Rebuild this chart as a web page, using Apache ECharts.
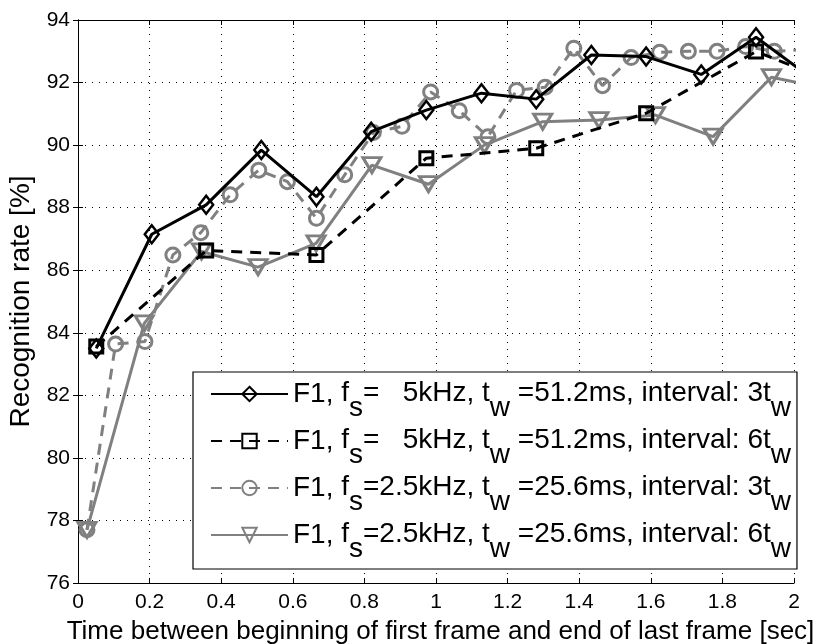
<!DOCTYPE html>
<html>
<head>
<meta charset="utf-8">
<script src="https://cdn.jsdelivr.net/npm/echarts@6/dist/echarts.min.js"></script>
<style>
  html, body { margin: 0; padding: 0; background: #fff; }
  #chart { width: 817px; height: 644px; }
</style>
</head>
<body>
<div id="chart"></div>
<script>
// F1, fs = 5 kHz, tw = 51.2 ms, interval 3tw
const diamondX = [0.051, 0.206, 0.358, 0.512, 0.666, 0.819, 0.973, 1.127, 1.280, 1.434, 1.587, 1.741, 1.894, 2.048];
const diamondY = [83.5, 87.15, 88.09, 89.84, 88.35, 90.43, 91.12, 91.66, 91.47, 92.88, 92.83, 92.26, 93.45, 92.15];

// F1, fs = 5 kHz, tw = 51.2 ms, interval 6tw
const squareX = [0.051, 0.358, 0.666, 0.973, 1.280, 1.587, 1.894, 2.202];
const squareY = [83.56, 86.63, 86.49, 89.58, 89.90, 91.02, 92.99, 91.6];

// F1, fs = 2.5 kHz, tw = 25.6 ms, interval 3tw
const circleX = [0.025, 0.105, 0.187, 0.265, 0.343, 0.425, 0.505, 0.585, 0.666, 0.745, 0.825, 0.905, 0.985,
                 1.065, 1.145, 1.225, 1.305, 1.385, 1.465, 1.545, 1.625, 1.705, 1.785, 1.865, 1.945, 2.025];
const circleY = [77.7, 83.64, 83.72, 86.49, 87.2, 88.41, 89.2, 88.83, 87.66, 89.05, 90.4, 90.6, 91.7,
                 91.1, 90.27, 91.75, 91.85, 93.1, 91.9, 92.8, 92.97, 93.0, 93.0, 93.15, 93.0, 93.05];

// F1, fs = 2.5 kHz, tw = 25.6 ms, interval 6tw
const triangleX = [0.025, 0.185, 0.345, 0.503, 0.665, 0.821, 0.979, 1.135, 1.298, 1.455, 1.613, 1.774, 1.937, 2.097];
const triangleY = [77.7, 84.3, 86.6, 86.1, 86.86, 89.36, 88.75, 90.0, 90.75, 90.8, 90.96, 90.27, 92.17, 91.8];

const seriesNames = [
  'F1, {m|f}{s|s}{m|=   5kHz, t}{s|w}{m| =51.2ms, interval: 3t}{s|w}',
  'F1, {m|f}{s|s}{m|=   5kHz, t}{s|w}{m| =51.2ms, interval: 6t}{s|w}',
  'F1, {m|f}{s|s}{m|=2.5kHz, t}{s|w}{m| =25.6ms, interval: 3t}{s|w}',
  'F1, {m|f}{s|s}{m|=2.5kHz, t}{s|w}{m| =25.6ms, interval: 6t}{s|w}'
];

const xTickLabels = ['0', '0.2', '0.4', '0.6', '0.8', '1', '1.2', '1.4', '1.6', '1.8', '2'];
const yTickLabels = ['76', '78', '80', '82', '84', '86', '88', '90', '92', '94'];

const FONT = '"Liberation Sans", Arial, Helvetica, sans-serif';
const GRAY = '#808080';
const LEGEND_FONT = 28;

function pairs(xs, ys) {
  return xs.map((x, i) => [x, ys[i]]);
}

const chart = echarts.init(document.getElementById('chart'), null, { renderer: 'canvas' });

const gridLine = { show: true, lineStyle: { color: '#000', width: 1, type: [1, 6] } };

const baseX = {
  type: 'value', min: 0, max: 2, interval: 0.2,
  axisLine: { show: true, lineStyle: { color: '#000', width: 1 } },
  axisTick: { show: true, inside: true, length: 5, lineStyle: { color: '#000' } }
};
const baseY = {
  type: 'value', min: 76, max: 94, interval: 2,
  axisLine: { show: true, lineStyle: { color: '#000', width: 1 } },
  axisTick: { show: true, inside: true, length: 5, lineStyle: { color: '#000' } }
};

function lineSeries(name, data, opts) {
  return Object.assign({
    name: name,
    type: 'line',
    data: data,
    xAxisIndex: 0,
    yAxisIndex: 0,
    clip: true,
    showAllSymbol: true,
    animation: false
  }, opts);
}

const option = {
  animation: false,
  backgroundColor: '#fff',
  textStyle: { fontFamily: FONT },
  grid: { left: 78, right: 23, top: 20, bottom: 61, containLabel: false, outerBoundsMode: 'none' },
  xAxis: [
    Object.assign({}, baseX, {
      position: 'bottom',
      name: 'Time between beginning of first frame and end of last frame [sec]',
      nameLocation: 'middle', nameGap: 36,
      nameTextStyle: { fontSize: 26, color: '#000', fontFamily: FONT, padding: [0, 0, 0, 9] },
      splitLine: gridLine,
      axisLabel: {
        fontSize: 21, color: '#000', margin: 9, fontFamily: FONT,
        formatter: (v) => xTickLabels[Math.round(v / 0.2)]
      }
    }),
    Object.assign({}, baseX, {
      position: 'top', splitLine: { show: false }, axisLabel: { show: false }
    })
  ],
  yAxis: [
    Object.assign({}, baseY, {
      position: 'left',
      name: 'Recognition rate [%]',
      nameLocation: 'middle', nameGap: 37,
      nameTextStyle: { fontSize: 28, color: '#000', fontFamily: FONT },
      splitLine: gridLine,
      axisLabel: {
        fontSize: 21, color: '#000', margin: 8, fontFamily: FONT,
        formatter: (v) => yTickLabels[Math.round((v - 76) / 2)]
      }
    }),
    Object.assign({}, baseY, {
      position: 'right', splitLine: { show: false }, axisLabel: { show: false }
    })
  ],
  legend: {
    orient: 'vertical',
    left: 193,
    top: 372,
    padding: [7, 6, 6, 17],
    itemGap: 4,
    itemWidth: 77,
    itemHeight: 18,
    backgroundColor: '#fff',
    borderColor: '#000',
    borderWidth: 1.2,
    borderRadius: 0,
    z: 10,
    data: seriesNames,
    textStyle: {
      fontFamily: FONT, fontSize: LEGEND_FONT, color: '#000',
      rich: {
        m: { fontFamily: FONT, fontSize: LEGEND_FONT, color: '#000', verticalAlign: 'top', lineHeight: 30 },
        s: { fontFamily: FONT, fontSize: LEGEND_FONT, color: '#000', verticalAlign: 'top', lineHeight: 30, padding: [15, 0, 0, 0] }
      }
    }
  },
  series: [
    lineSeries(seriesNames[2], pairs(circleX, circleY), {
      z: 2,
      symbol: 'circle', symbolSize: 14,
      lineStyle: { color: GRAY, width: 3, type: [11, 8] },
      itemStyle: { color: 'rgba(255,255,255,0)', borderColor: GRAY, borderWidth: 3 },
      color: GRAY
    }),
    lineSeries(seriesNames[3], pairs(triangleX, triangleY), {
      z: 3,
      symbol: 'triangle', symbolRotate: 180, symbolSize: [18, 15],
      lineStyle: { color: GRAY, width: 3, type: 'solid' },
      itemStyle: { color: 'rgba(255,255,255,0)', borderColor: GRAY, borderWidth: 3 },
      color: GRAY
    }),
    lineSeries(seriesNames[1], pairs(squareX, squareY), {
      z: 4,
      symbol: 'rect', symbolSize: 13,
      lineStyle: { color: '#000', width: 3, type: [11, 8] },
      itemStyle: { color: 'rgba(255,255,255,0)', borderColor: '#000', borderWidth: 3 },
      color: '#000'
    }),
    lineSeries(seriesNames[0], pairs(diamondX, diamondY), {
      z: 5,
      symbol: 'diamond', symbolSize: [14, 18],
      lineStyle: { color: '#000', width: 3, type: 'solid' },
      itemStyle: { color: 'rgba(255,255,255,0)', borderColor: '#000', borderWidth: 2.5 },
      color: '#000'
    })
  ]
};

chart.setOption(option);
</script>
</body>
</html>
